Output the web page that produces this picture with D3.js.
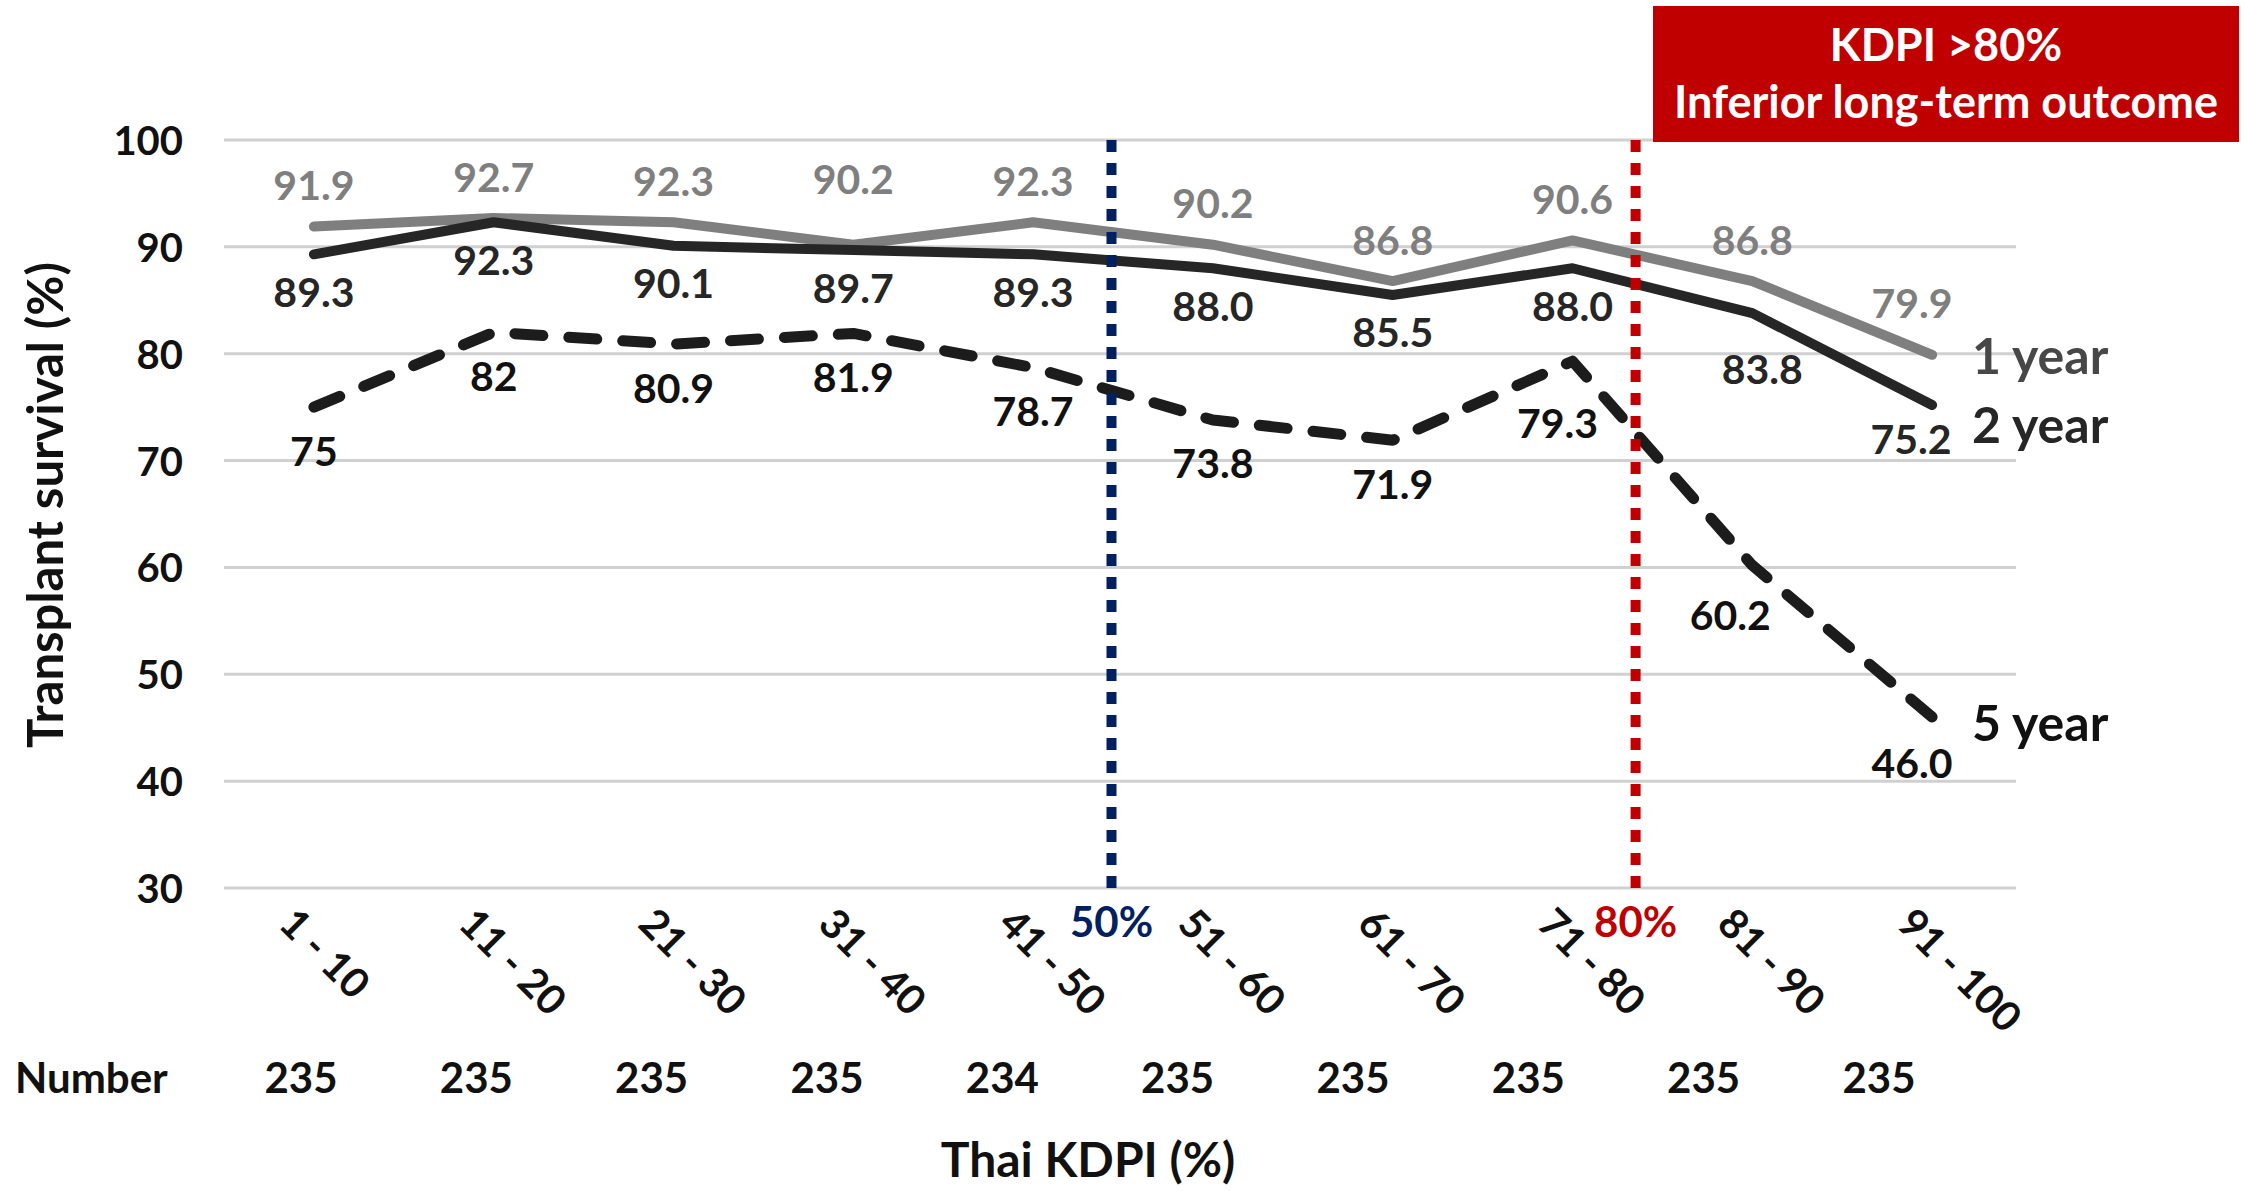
<!DOCTYPE html>
<html>
<head>
<meta charset="utf-8">
<script src="https://cdn.jsdelivr.net/npm/d3@7"></script>
<style>
  html, body { margin: 0; padding: 0; background: #ffffff; }
  svg { display: block; }
  text { font-family: Lato, "Open Sans", "Noto Sans", sans-serif; font-weight: 700; }
</style>
</head>
<body>
<svg id="chart" width="2245" height="1191"></svg>
<script>
// ---------------- data ----------------
const categories = ["1 - 10", "11 - 20", "21 - 30", "31 - 40", "41 - 50", "51 - 60", "61 - 70", "71 - 80", "81 - 90", "91 - 100"];
const oneYear  = [91.9, 92.7, 92.3, 90.2, 92.3, 90.2, 86.8, 90.6, 86.8, 79.9];
const twoYear  = [89.3, 92.3, 90.1, 89.7, 89.3, 88.0, 85.5, 88.0, 83.8, 75.2];
const fiveYear = [75, 82, 80.9, 81.9, 78.7, 73.8, 71.9, 79.3, 60.2, 46.0];
const oneYearLabels  = ["91.9", "92.7", "92.3", "90.2", "92.3", "90.2", "86.8", "90.6", "86.8", "79.9"];
const twoYearLabels  = ["89.3", "92.3", "90.1", "89.7", "89.3", "88.0", "85.5", "88.0", "83.8", "75.2"];
const fiveYearLabels = ["75", "82", "80.9", "81.9", "78.7", "73.8", "71.9", "79.3", "60.2", "46.0"];
const numbers = [235, 235, 235, 235, 234, 235, 235, 235, 235, 235];
const yTicks = [30, 40, 50, 60, 70, 80, 90, 100];
const seriesNames = ["1 year", "2 year", "5 year"];
const thresholds = [50, 80];
const thresholdLabels = ["50%", "80%"];
const calloutLines = ["KDPI >80%", "Inferior long-term outcome"];
const yTitle = "Transplant survival (%)";
const xTitle = "Thai KDPI (%)";
const rowTitle = "Number";

// ---------------- layout / style ----------------
const svg = d3.select("#chart");
const x = d3.scaleBand().domain(categories).range([224, 2022]);
const cx = c => x(c) + x.bandwidth() / 2;
const y = d3.scaleLinear().domain([30, 100]).range([888, 140]);
// KDPI (%) -> x for the threshold markers
const kx = d3.scaleLinear().domain([0, 100]).range([238, 1985]);
const nx = d3.scalePoint().domain(categories).range([301, 1879]);

const series = [
  { name: seriesNames[0], values: oneYear,  labels: oneYearLabels,  stroke: "#7f7f7f", width: 10, dash: null,    labelFill: "#7f7f7f", nameFill: "#474747", dy: -42, nameDy: 0 },
  { name: seriesNames[1], values: twoYear,  labels: twoYearLabels,  stroke: "#262626", width: 10, dash: null,    labelFill: "#262626", nameFill: "#262626", dy: 37,  nameDy: 19 },
  { name: seriesNames[2], values: fiveYear, labels: fiveYearLabels, stroke: "#1c1c1c", width: 11, dash: "28 26", labelFill: "#111111", nameFill: "#111111", dy: 43,  nameDy: 5 }
];
// individual label nudges [dx, dy] (series index -> point index)
const nudges = {
  0: { 3: [0, -24], 9: [-20, -10] },
  1: { 8: [10, 18], 9: [-21, -4] },
  2: { 7: [-15, 18], 8: [-22, 6], 9: [-20, 2] }
};

// gridlines
svg.append("g").selectAll("line").data(yTicks).join("line")
  .attr("x1", x.range()[0]).attr("x2", x.range()[1] - 6)
  .attr("y1", d => y(d)).attr("y2", d => y(d))
  .attr("stroke", "#d0d0d0").attr("stroke-width", 3);

// y tick labels
svg.append("g").selectAll("text").data(yTicks).join("text")
  .attr("x", 183).attr("y", d => y(d))
  .attr("text-anchor", "end").attr("dominant-baseline", "central")
  .attr("font-size", 40).attr("fill", "#111").text(d => d);

// y title
svg.append("text")
  .attr("transform", "translate(44,505) rotate(-90)")
  .attr("text-anchor", "middle").attr("dominant-baseline", "central")
  .attr("font-size", 49).attr("fill", "#111").text(yTitle);

// category labels (rotated)
svg.append("g").selectAll("text").data(categories).join("text")
  .attr("transform", d => `translate(${cx(d) - 26},915) rotate(45)`)
  .attr("text-anchor", "start").attr("dominant-baseline", "central")
  .attr("font-size", 41).attr("fill", "#111").text(d => d);

// Number row
svg.append("text").attr("x", 15).attr("y", 1093)
  .attr("font-size", 42).attr("fill", "#111").text(rowTitle);
svg.append("g").selectAll("text").data(numbers).join("text")
  .attr("x", (d, i) => nx(categories[i])).attr("y", 1093)
  .attr("text-anchor", "middle").attr("font-size", 42).attr("fill", "#111").text(d => d);

// x title
svg.append("text").attr("x", 1088).attr("y", 1177)
  .attr("text-anchor", "middle").attr("font-size", 48).attr("fill", "#111").text(xTitle);

// lines
const line = d3.line().x((d, i) => cx(categories[i])).y(d => y(d));
series.forEach(s => {
  svg.append("path").datum(s.values)
    .attr("d", line).attr("fill", "none")
    .attr("stroke", s.stroke).attr("stroke-width", s.width)
    .attr("stroke-linejoin", "round").attr("stroke-linecap", "round")
    .attr("stroke-dasharray", s.dash);
});

// data labels
series.forEach((s, si) => {
  svg.append("g").selectAll("text").data(s.values).join("text")
    .attr("x", (d, i) => cx(categories[i]) + ((nudges[si][i] || [0, 0])[0]))
    .attr("y", (d, i) => y(d) + s.dy + ((nudges[si][i] || [0, 0])[1]))
    .attr("text-anchor", "middle").attr("dominant-baseline", "central")
    .attr("font-size", 41).attr("fill", s.labelFill)
    .text((d, i) => s.labels[i]);
  // series name at line end
  const last = s.values.length - 1;
  svg.append("text")
    .attr("x", cx(categories[last]) + 40)
    .attr("y", y(s.values[last]) + s.nameDy)
    .attr("dominant-baseline", "central")
    .attr("font-size", 50).attr("fill", s.nameFill).text(s.name);
});

// threshold dotted lines + labels
const thrColors = ["#002060", "#C00000"];
thresholds.forEach((t, i) => {
  svg.append("line")
    .attr("x1", kx(t)).attr("x2", kx(t))
    .attr("y1", y(100)).attr("y2", y(30))
    .attr("stroke", thrColors[i]).attr("stroke-width", 10)
    .attr("stroke-dasharray", "12 11");
  svg.append("text")
    .attr("x", kx(t)).attr("y", 921)
    .attr("text-anchor", "middle").attr("dominant-baseline", "central")
    .attr("font-size", 42).attr("fill", thrColors[i]).text(thresholdLabels[i]);
});

// callout box
svg.append("rect").attr("x", 1653).attr("y", 6).attr("width", 586).attr("height", 136).attr("fill", "#C00000");
svg.append("g").selectAll("text").data(calloutLines).join("text")
  .attr("x", 1946).attr("y", (d, i) => 61 + i * 57)
  .attr("text-anchor", "middle").attr("font-size", 45).attr("fill", "#ffffff").text(d => d);
</script>
</body>
</html>
